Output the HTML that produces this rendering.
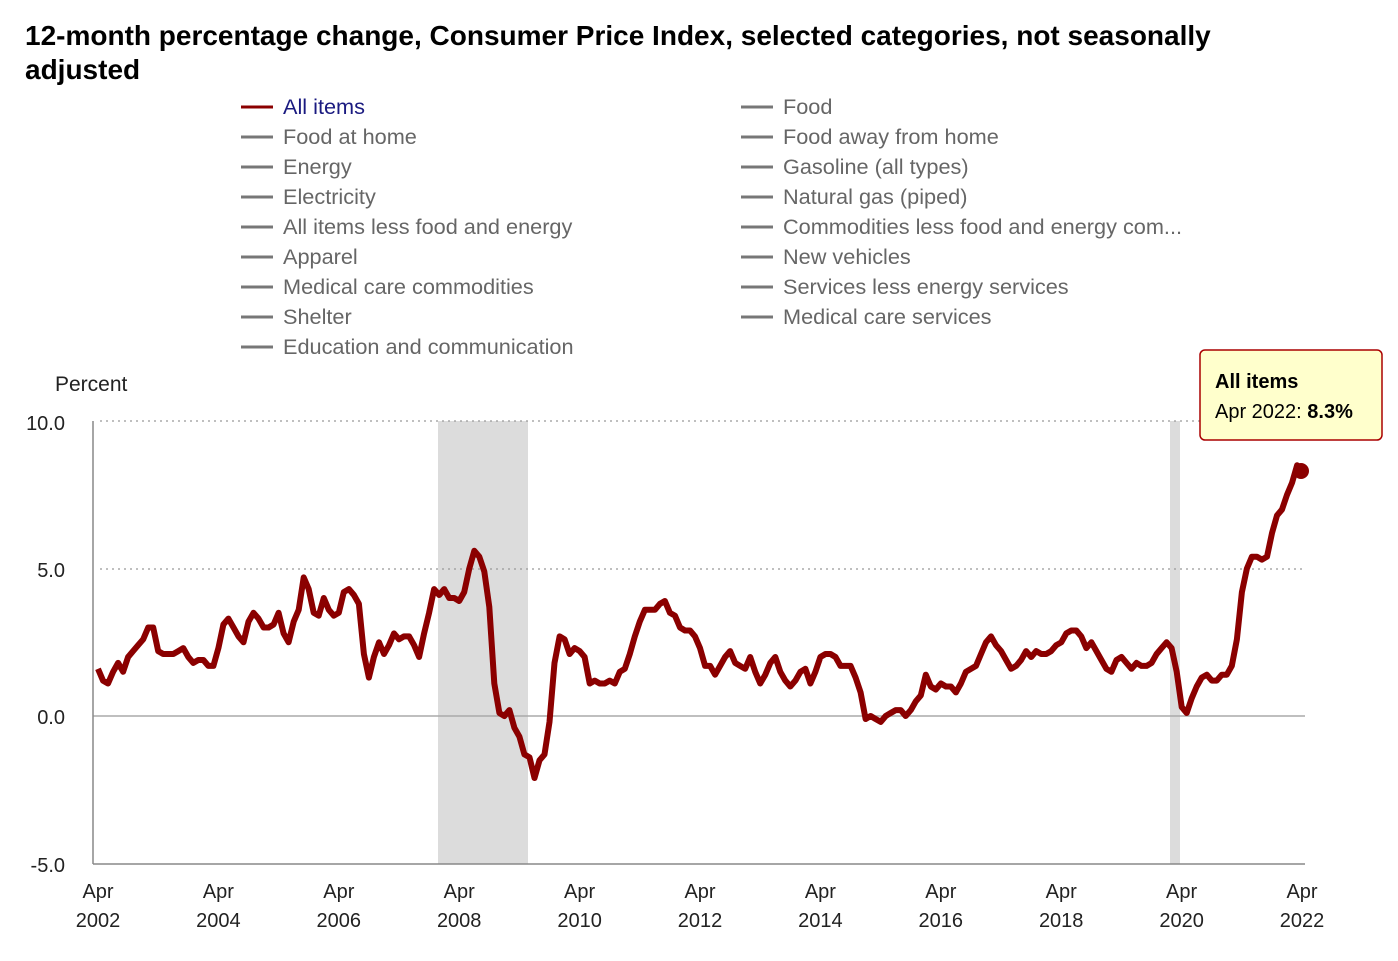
<!DOCTYPE html>
<html><head><meta charset="utf-8"><style>
body{margin:0;background:#fff;width:1398px;height:956px;overflow:hidden;font-family:"Liberation Sans",sans-serif}
</style></head><body>
<svg width="1398" height="956" xmlns="http://www.w3.org/2000/svg" font-family="Liberation Sans, sans-serif">
<text x="25" y="45" font-size="28" font-weight="bold" fill="#000">12-month percentage change, Consumer Price Index, selected categories, not seasonally</text>
<text x="25" y="79" font-size="28" font-weight="bold" fill="#000">adjusted</text>
<g font-size="21.7" fill="#666" id="leg"></g>
<text x="55" y="391" font-size="21" fill="#222">Percent</text>
<rect x="438" y="421" width="90" height="443" fill="#dcdcdc"/>
<rect x="1170" y="421" width="10" height="443" fill="#dcdcdc"/>
<line x1="100" y1="421" x2="1305" y2="421" stroke="#999" stroke-dasharray="2,4" stroke-width="1.3"/>
<line x1="100" y1="569" x2="1305" y2="569" stroke="#999" stroke-dasharray="2,4" stroke-width="1.3"/>
<line x1="93" y1="716" x2="1305" y2="716" stroke="#aaa" stroke-width="1.5"/>
<line x1="93" y1="421" x2="93" y2="864" stroke="#888" stroke-width="1.5"/>
<line x1="93" y1="864" x2="1305" y2="864" stroke="#888" stroke-width="1.5"/>
<g font-size="20" fill="#222" text-anchor="end">
<text x="65" y="430">10.0</text><text x="65" y="577">5.0</text><text x="65" y="724">0.0</text><text x="65" y="872">-5.0</text>
</g>
<g font-size="20" fill="#222" text-anchor="middle" id="xl"></g>
<polyline id="ln" fill="none" stroke="#8b0000" stroke-width="6" stroke-linejoin="round"/>
<circle cx="1301" cy="471" r="8" fill="#8b0000"/>
<rect x="1200" y="350" width="182" height="90" rx="5" fill="#ffffcc" stroke="#a00" stroke-width="1.5"/>
<text x="1215" y="388" font-size="20" font-weight="bold" fill="#000">All items</text>
<text x="1215" y="418" font-size="20" fill="#000">Apr 2022: <tspan font-weight="bold">8.3%</tspan></text>
</svg>
<script>
var d=[1.6,1.2,1.1,1.5,1.8,1.5,2.0,2.2,2.4,
2.6,3.0,3.0,2.2,2.1,2.1,2.1,2.2,2.3,2.0,1.8,1.9,
1.9,1.7,1.7,2.3,3.1,3.3,3.0,2.7,2.5,3.2,3.5,3.3,
3.0,3.0,3.1,3.5,2.8,2.5,3.2,3.6,4.7,4.3,3.5,3.4,
4.0,3.6,3.4,3.5,4.2,4.3,4.1,3.8,2.1,1.3,2.0,2.5,
2.1,2.4,2.8,2.6,2.7,2.7,2.4,2.0,2.8,3.5,4.3,4.1,
4.3,4.0,4.0,3.9,4.2,5.0,5.6,5.4,4.9,3.7,1.1,0.1,
0.0,0.2,-0.4,-0.7,-1.3,-1.4,-2.1,-1.5,-1.3,-0.2,1.8,2.7,
2.6,2.1,2.3,2.2,2.0,1.1,1.2,1.1,1.1,1.2,1.1,1.5,
1.6,2.1,2.7,3.2,3.6,3.6,3.6,3.8,3.9,3.5,3.4,3.0,
2.9,2.9,2.7,2.3,1.7,1.7,1.4,1.7,2.0,2.2,1.8,1.7,
1.6,2.0,1.5,1.1,1.4,1.8,2.0,1.5,1.2,1.0,1.2,1.5,
1.6,1.1,1.5,2.0,2.1,2.1,2.0,1.7,1.7,1.7,1.3,0.8,
-0.1,0.0,-0.1,-0.2,0.0,0.1,0.2,0.2,0.0,0.2,0.5,0.7,
1.4,1.0,0.9,1.1,1.0,1.0,0.8,1.1,1.5,1.6,1.7,2.1,
2.5,2.7,2.4,2.2,1.9,1.6,1.7,1.9,2.2,2.0,2.2,2.1,
2.1,2.2,2.4,2.5,2.8,2.9,2.9,2.7,2.3,2.5,2.2,1.9,
1.6,1.5,1.9,2.0,1.8,1.6,1.8,1.7,1.7,1.8,2.1,2.3,
2.5,2.3,1.5,0.3,0.1,0.6,1.0,1.3,1.4,1.2,1.2,1.4,
1.4,1.7,2.6,4.2,5.0,5.4,5.4,5.3,5.4,6.2,6.8,7.0,
7.5,7.9,8.5,8.3];
var p=d.map(function(v,i){return (98+i*5.017).toFixed(1)+","+(716-v*29.5).toFixed(1)}).join(" ");
document.getElementById("ln").setAttribute("points",p);
var ns="http://www.w3.org/2000/svg",xl=document.getElementById("xl");
for(var k=0;k<=10;k++){var x=98+k*120.4;[["Apr",898],[String(2002+2*k),927]].forEach(function(a){var t=document.createElementNS(ns,"text");t.setAttribute("x",x);t.setAttribute("y",a[1]);t.textContent=a[0];xl.appendChild(t);});}
var L=["All items","Food at home","Energy","Electricity","All items less food and energy","Apparel","Medical care commodities","Shelter","Education and communication"];
var R=["Food","Food away from home","Gasoline (all types)","Natural gas (piped)","Commodities less food and energy com...","New vehicles","Services less energy services","Medical care services"];
var g=document.getElementById("leg");
function add(arr,lx,tx){arr.forEach(function(s,i){var y=107+i*30;var l=document.createElementNS(ns,"line");l.setAttribute("x1",lx);l.setAttribute("x2",lx+32);l.setAttribute("y1",y);l.setAttribute("y2",y);l.setAttribute("stroke",(s=="All items"&&lx<500)?"#8b0000":"#777");l.setAttribute("stroke-width","3");g.appendChild(l);var t=document.createElementNS(ns,"text");t.setAttribute("x",tx);t.setAttribute("y",y+7);if(s=="All items"&&lx<500)t.setAttribute("fill","#1a1a80");t.textContent=s;g.appendChild(t);});}
add(L,241,283);add(R,741,783);
</script>
</body></html>
